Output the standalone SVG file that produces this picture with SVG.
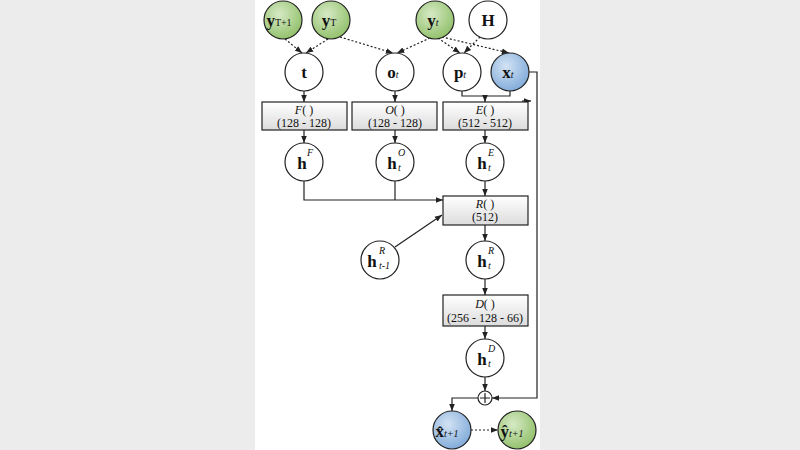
<svg xmlns="http://www.w3.org/2000/svg" width="800" height="450" viewBox="0 0 800 450">
<defs>
<radialGradient id="g" cx="0.4" cy="0.35" r="0.7"><stop offset="0" stop-color="#d6e9c4"/><stop offset="1" stop-color="#8fbf68"/></radialGradient>
<radialGradient id="b" cx="0.4" cy="0.35" r="0.7"><stop offset="0" stop-color="#d3e3f4"/><stop offset="1" stop-color="#7ea9d8"/></radialGradient>
<linearGradient id="bx" x1="0" y1="0" x2="0" y2="1"><stop offset="0" stop-color="#ffffff"/><stop offset="1" stop-color="#dcdcdc"/></linearGradient>
<marker id="a" viewBox="0 0 10 10" refX="10" refY="5" markerWidth="6" markerHeight="6" orient="auto"><path d="M0,1 L10,5 L0,9 z" fill="#222"/></marker>
</defs>
<style>
circle{stroke:#222;stroke-width:1.2;fill:#fff}
.n{font-family:"Liberation Serif",serif;font-weight:bold;font-size:17px;text-anchor:middle;fill:#111}
.s{font-family:"Liberation Serif",serif;font-size:10px;font-style:italic;fill:#111}
.bt{font-family:"Liberation Serif",serif;font-size:12px;text-anchor:middle;fill:#111}
.box{fill:url(#bx);stroke:#222;stroke-width:1.2}
.c{fill:none;stroke:#222;stroke-width:1.2}
.d{fill:none;stroke:#222;stroke-width:1.2;stroke-dasharray:2,2}
</style>
<rect width="800" height="450" fill="#ececec"/>
<rect x="255" y="0" width="285" height="450" fill="#fff"/>
<g id="connectors">
<path class="d" d="M285,39 L302,53" marker-end="url(#a)"/>
<path class="d" d="M328,39 L306,53" marker-end="url(#a)"/>
<path class="d" d="M340,37 L393,53" marker-end="url(#a)"/>
<path class="d" d="M430,38 L397,53" marker-end="url(#a)"/>
<path class="d" d="M438,38 L460,53" marker-end="url(#a)"/>
<path class="d" d="M480,37 L464,53" marker-end="url(#a)"/>
<path class="d" d="M442,37 L509,53" marker-end="url(#a)"/>
<path class="c" d="M304,91 V102" marker-end="url(#a)"/>
<path class="c" d="M395,91 V102" marker-end="url(#a)"/>
<path class="c" d="M462,91 V96 H510 V91"/>
<path class="c" d="M485,96 V102" marker-end="url(#a)"/>
<path class="c" d="M522,101 H531" marker-end="url(#a)"/>
<path class="c" d="M304,130 V143" marker-end="url(#a)"/>
<path class="c" d="M395,130 V143" marker-end="url(#a)"/>
<path class="c" d="M485,130 V143" marker-end="url(#a)"/>
<path class="c" d="M304,181 V200 H443" marker-end="url(#a)"/>
<path class="c" d="M395,181 V200"/>
<path class="c" d="M485,181 V196" marker-end="url(#a)"/>
<path class="c" d="M395,247 L442,215" marker-end="url(#a)"/>
<path class="c" d="M485,225 V241" marker-end="url(#a)"/>
<path class="c" d="M485,279 V295" marker-end="url(#a)"/>
<path class="c" d="M485,326 V339" marker-end="url(#a)"/>
<path class="c" d="M485,377 V391" marker-end="url(#a)"/>
<path class="c" d="M529,72 H537 V398 H492" marker-end="url(#a)"/>
<path class="c" d="M478,398 H452 V411" marker-end="url(#a)"/>
<path class="d" d="M471,430 H498" marker-end="url(#a)"/>
</g>
<g id="yT1"><circle cx="283" cy="20" r="19" style="fill:url(#g)"/><text class="n" x="279" y="26">y<tspan font-size="10" font-weight="normal">T+1</tspan></text></g>
<g id="yT"><circle cx="331" cy="20" r="19" style="fill:url(#g)"/><text class="n" x="329" y="26">y<tspan font-size="10" font-weight="normal">T</tspan></text></g>
<g id="yt"><circle cx="435" cy="20" r="19" style="fill:url(#g)"/><text class="n" x="433" y="26">y<tspan class="s" font-weight="normal">t</tspan></text></g>
<g id="H"><circle cx="488" cy="20" r="19"/><text class="n" x="488" y="26">H</text></g>
<g id="t"><circle cx="304" cy="72" r="19"/><text class="n" x="304" y="78">t</text></g>
<g id="ot"><circle cx="395" cy="72" r="19"/><text class="n" x="393" y="78">o<tspan class="s" font-weight="normal">t</tspan></text></g>
<g id="pt"><circle cx="462" cy="72" r="19"/><text class="n" x="460" y="78">p<tspan class="s" font-weight="normal">t</tspan></text></g>
<g id="xt"><circle cx="510" cy="72" r="19" style="fill:url(#b)"/><text class="n" x="508" y="78">x<tspan class="s" font-weight="normal">t</tspan></text></g>
<g id="F"><rect class="box" x="262" y="102" width="85" height="28"/><text class="bt" x="304" y="114"><tspan font-style="italic">F</tspan>( )</text><text class="bt" x="304" y="127">(128 - 128)</text></g>
<g id="O"><rect class="box" x="352" y="102" width="85" height="28"/><text class="bt" x="395" y="114"><tspan font-style="italic">O</tspan>( )</text><text class="bt" x="395" y="127">(128 - 128)</text></g>
<g id="E"><rect class="box" x="443" y="102" width="85" height="28"/><text class="bt" x="485" y="114"><tspan font-style="italic">E</tspan>( )</text><text class="bt" x="485" y="127">(512 - 512)</text></g>
<g id="hF"><circle cx="304" cy="162" r="19"/><text class="n" x="302" y="169">h</text><text class="s" x="307" y="156">F</text></g>
<g id="hO"><circle cx="395" cy="162" r="19"/><text class="n" x="392" y="169">h</text><text class="s" x="398" y="156">O</text><text class="s" x="398" y="171">t</text></g>
<g id="hE"><circle cx="485" cy="162" r="19"/><text class="n" x="482" y="169">h</text><text class="s" x="488" y="156">E</text><text class="s" x="488" y="171">t</text></g>
<g id="R"><rect class="box" x="443" y="196" width="85" height="29"/><text class="bt" x="485" y="208"><tspan font-style="italic">R</tspan>( )</text><text class="bt" x="485" y="221">(512)</text></g>
<g id="hR1"><circle cx="380" cy="260" r="19"/><text class="n" x="372" y="267">h</text><text class="s" x="379" y="254">R</text><text class="s" x="379" y="269">t-1</text></g>
<g id="hR"><circle cx="485" cy="260" r="19"/><text class="n" x="482" y="267">h</text><text class="s" x="488" y="254">R</text><text class="s" x="488" y="269">t</text></g>
<g id="D"><rect class="box" x="443" y="295" width="85" height="31"/><text class="bt" x="485" y="308"><tspan font-style="italic">D</tspan>( )</text><text class="bt" x="485" y="322">(256 - 128 - 66)</text></g>
<g id="hD"><circle cx="485" cy="358" r="19"/><text class="n" x="482" y="365">h</text><text class="s" x="488" y="352">D</text><text class="s" x="488" y="367">t</text></g>
<g id="plus"><circle cx="485" cy="398" r="7"/><path d="M480,398 H490 M485,393 V403" stroke="#222" stroke-width="1.2"/></g>
<g id="xhat"><circle cx="452" cy="430" r="19" style="fill:url(#b)"/><text class="n" x="447" y="437">x̂<tspan class="s" font-weight="normal">t+1</tspan></text></g>
<g id="yhat"><circle cx="517" cy="430" r="19" style="fill:url(#g)"/><text class="n" x="512" y="437">ŷ<tspan class="s" font-weight="normal">t+1</tspan></text></g>
</svg>
